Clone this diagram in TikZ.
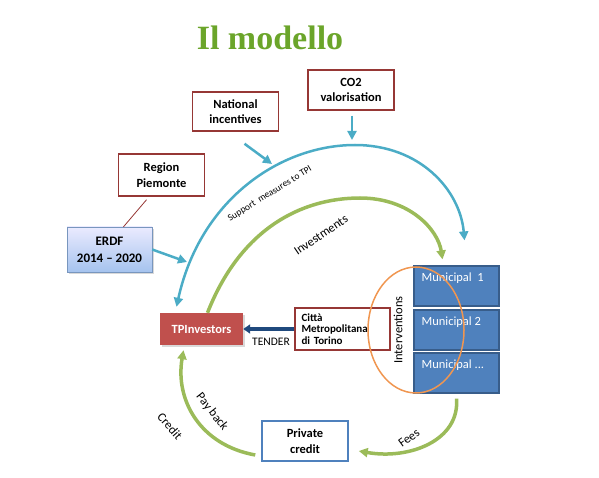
\documentclass[tikz,border=0pt]{standalone}
\usepackage{fontspec}
\setmainfont{Carlito}
\newfontfamily\titlefont{Liberation Serif}
\usetikzlibrary{arrows.meta, positioning, shadows}

\definecolor{boxred}{RGB}{150,55,53}
\definecolor{tealline}{RGB}{75,172,198}
\definecolor{greenline}{RGB}{155,187,89}
\definecolor{titlegreen}{RGB}{107,165,42}
\definecolor{muniblue}{RGB}{79,129,189}
\definecolor{muniborder}{RGB}{56,93,138}
\definecolor{tpired}{RGB}{192,80,77}
\definecolor{tenderblue}{RGB}{31,73,125}
\definecolor{erdfborder}{RGB}{120,150,190}
\definecolor{circleorange}{RGB}{240,150,80}

\tikzset{
  srcbox/.style={draw=boxred, line width=1.5pt, fill=white, align=center,
    minimum width=86pt, minimum height=40pt, font=\bfseries\fontsize{12.5}{15.5}\selectfont},
  muni/.style={draw=muniborder, line width=1.2pt, fill=muniblue,
    minimum width=85pt, minimum height=40pt},
  munitext/.style={text=white, font=\fontsize{12.5}{14}\selectfont, inner sep=0pt,
    anchor=north west, xshift=8pt, yshift=-7pt},
  support/.style={tealline, line width=2.5pt},
  flow/.style={greenline, line width=3.5pt},
  flowlabel/.style={font=\fontsize{12.5}{14}\selectfont, inner sep=0pt},
  tip/.style={-{Triangle[length=9pt,width=9pt]}}
}

\begin{document}
\begin{tikzpicture}[x=1pt, y=-1pt]
  \useasboundingbox (0,0) rectangle (599,478);

  \node[text=titlegreen, font=\titlefont\bfseries\fontsize{34}{40}\selectfont] (title) at (270,38) {Il modello};

  % sources of support
  \node[srcbox] (co2) at (351,90) {CO2\\valorisation};
  \node[srcbox, minimum height=39pt] (nat) at (235.5,111.5) {National\\incentives};
  \node[srcbox, minimum height=42pt] (reg) at (161.5,175) {Region\\Piemonte};
  \node[draw=erdfborder, top color=blue!8, bottom color={rgb,255:red,165;green,195;blue,238},
    drop shadow={opacity=0.3, shadow xshift=2pt, shadow yshift=-2pt},
    align=center, minimum width=85pt, minimum height=45pt,
    font=\bfseries\fontsize{13}{17}\selectfont] (erdf) at (109.5,249.5) {ERDF\\2014 -- 2020};

  % actors
  \node[fill=tpired, text=white, minimum width=83pt, minimum height=32pt,
    drop shadow={opacity=0.3, shadow xshift=2pt, shadow yshift=-2pt},
    font=\bfseries\fontsize{12.5}{14}\selectfont] (tpi) at (201.5,329) {TPInvestors};
  \node[srcbox, minimum width=95pt, minimum height=42pt, align=left, text width=82pt,
    font=\bfseries\fontsize{11}{11.5}\selectfont] (citta) at (342.5,329) {Città\\Metropolitana\\di Torino};
  \node[srcbox, draw=muniblue] (pc) at (305,441) {Private\\credit};

  \node[muni, label={[munitext]north west:Municipal\ \ 1}] (m1) at (456.5,286) {};
  \node[muni, label={[munitext]north west:Municipal 2}] (m2) at (456.5,330) {};
  \node[muni, label={[munitext]north west:Municipal ...}] (m3) at (456.5,373) {};
  \draw[circleorange, line width=1.5pt] (416,330) ellipse [x radius=48pt, y radius=63pt];

  % support measures
  \coordinate (supTop) at (355,145);
  \coordinate (erdfHit) at (187,262);
  \coordinate (natHit) at (272,164);
  \coordinate (co2Hit) at (352,140);
  \draw[support, {Triangle[length=9pt,width=9pt]}-{Triangle[length=9pt,width=9pt]}]
    ([xshift=-25pt,yshift=6pt]tpi.north) .. controls (200,200) and (280,145) .. (supTop)
    .. controls (420,145) and (460,190) .. ([xshift=8pt,yshift=25pt]m1.north);
  \draw[support, tip] (erdf.east) -- (erdfHit);
  \draw[support, tip] ([xshift=9pt,yshift=-12pt]nat.south) -- (natHit);
  \draw[support, tip] ([xshift=1pt,yshift=-5pt]co2.south) -- (co2Hit);
  \draw[boxred, line width=0.8pt] ([xshift=-15pt,yshift=-3pt]reg.south) -- ([xshift=14pt]erdf.north);

  % money flows
  \draw[flow, tip] ([xshift=6pt]tpi.north) .. controls (240,230) and (300,198) .. (360,198)
    .. controls (410,198) and (438,230) .. ([xshift=-14pt,yshift=6pt]m1.north);
  \draw[flow, tip] ([yshift=-5pt]m3.south) .. controls (460,440) and (410,460) .. ([xshift=10pt,yshift=-10pt]pc.east);
  \draw[flow, tip] ([xshift=-6pt,yshift=-14pt]pc.west) .. controls (200,445) and (175,400) .. ([xshift=-18pt,yshift=-5pt]tpi.south);
  \draw[tenderblue, line width=3.5pt, -{Triangle[length=7pt,width=9pt]}] (citta.west) -- (citta.west -| tpi.east);

  % labels
  \node[font=\fontsize{9.5}{10}\selectfont, inner sep=0pt, rotate=32] (suplabel) at (270,194) {Support\ \ measures to TPI};
  \node[flowlabel, rotate=34] (invlabel) at (321,235) {Investments};
  \node[flowlabel, font=\fontsize{11.5}{13}\selectfont] (tender) at (271,342) {TENDER};
  \node[flowlabel, rotate=90] (interv) at (398,330) {Interventions};
  \node[flowlabel, rotate=-52] (payback) at (212,412) {Pay back};
  \node[flowlabel, rotate=-49] (credit) at (170,426) {Credit};
  \node[flowlabel, rotate=36] (fees) at (409,438) {Fees};
\end{tikzpicture}
\end{document}
